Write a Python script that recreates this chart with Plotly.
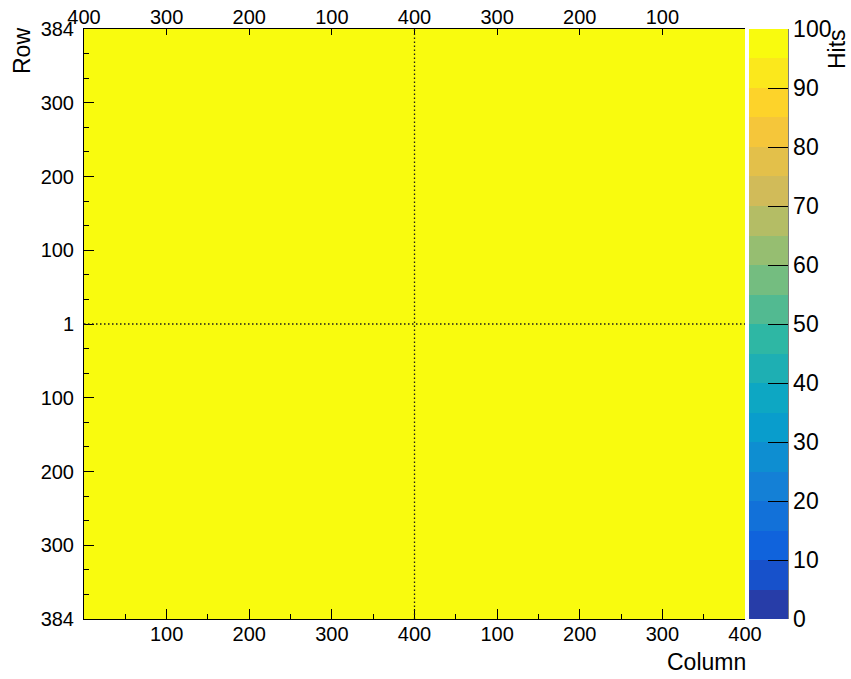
import numpy as np
import plotly.graph_objects as go

# ---- data -------------------------------------------------------------
# Quad module: 2 x 2 chips, each 400 columns x 384 rows
cols_per_chip = 400
rows_per_chip = 384
# mean hits per pixel in each chip (row 0 = lower chips)
chip_hits = [[100, 100],
             [100, 100]]

# axis tick labels
bottom_tick_cols = [100, 200, 300, 400, 500, 600, 700, 800]
bottom_tick_text = ["100", "200", "300", "400", "100", "200", "300", "400"]
top_tick_cols = [0, 100, 200, 300, 400, 500, 600, 700]
top_tick_text = ["400", "300", "200", "100", "400", "300", "200", "100"]
row_tick_text = ["384", "300", "200", "100", "1", "100", "200", "300", "384"]
cbar_ticks = [0, 10, 20, 30, 40, 50, 60, 70, 80, 90, 100]

# ---- geometry ---------------------------------------------------------
W, H = 851, 679
L, R, T, B = 84, 745, 29, 619
n_cols = 2 * cols_per_chip
n_rows = 2 * rows_per_chip
x_edges = [0, cols_per_chip, n_cols]
y_edges = [0, rows_per_chip, n_rows]
row_ticks = list(np.linspace(0, n_rows, len(row_tick_text)))


def px_x(px):
    return (px - L) / (R - L)


def px_y(py):
    return (B - py) / (B - T)


# ---- ROOT "kBird" palette, 20 contour levels -------------------------
stops = [0.0, 0.125, 0.25, 0.375, 0.5, 0.625, 0.75, 0.875, 1.0]
red = [0.2082, 0.0592, 0.0780, 0.0232, 0.1802, 0.5301, 0.8186, 0.9956, 0.9764]
green = [0.1664, 0.3599, 0.5041, 0.6419, 0.7178, 0.7492, 0.7328, 0.7862, 0.9832]
blue = [0.5293, 0.8684, 0.8385, 0.7914, 0.6425, 0.4662, 0.3499, 0.1968, 0.0539]
n_pal, n_levels = 255, 20
colorscale = []
for k in range(n_levels):
    idx = int((k + 0.99) * n_pal / n_levels)
    t = min(idx, n_pal - 1) / (n_pal - 1)
    r = np.interp(t, stops, red)
    g = np.interp(t, stops, green)
    b = np.interp(t, stops, blue)
    c = f"rgb({int(round(r*255))},{int(round(g*255))},{int(round(b*255))})"
    colorscale.append([k / n_levels, c])
    colorscale.append([(k + 1) / n_levels, c])

FONT = "Liberation Sans, Arial, Helvetica, sans-serif"

fig = go.Figure()
fig.add_trace(go.Heatmap(
    x=x_edges, y=y_edges, z=chip_hits,
    zmin=0, zmax=100, colorscale=colorscale,
    hoverinfo="skip",
    colorbar=dict(
        x=px_x(749), xanchor="left", xpad=0,
        y=0.5, yanchor="middle", ypad=0,
        len=1, lenmode="fraction",
        thickness=39, thicknessmode="pixels",
        outlinewidth=0,
        tickmode="array", tickvals=cbar_ticks,
        ticks="inside", ticklen=20, tickcolor="black", tickwidth=1,
        tickfont=dict(family=FONT, size=23, color="black"),
    ),
))
# carrier for the top axis
fig.add_trace(go.Scatter(x=[None], y=[None], xaxis="x2", showlegend=False))

axis_font = dict(family=FONT, size=20, color="black")

fig.update_layout(
    width=W, height=H,
    margin=dict(l=L, r=W - R, t=T, b=H - B, autoexpand=False),
    paper_bgcolor="white", plot_bgcolor="white",
    showlegend=False,
    xaxis=dict(
        range=[0, n_cols], showgrid=False, zeroline=False, automargin=False,
        showline=True, linecolor="black", linewidth=1,
        tickmode="array", tickvals=bottom_tick_cols, ticktext=bottom_tick_text,
        ticks="inside", ticklen=10, tickcolor="black", tickwidth=1,
        minor=dict(tickmode="linear", tick0=50, dtick=100, ticks="inside",
                   ticklen=5, tickcolor="black", tickwidth=1, showgrid=False),
        tickfont=axis_font, ticklabelstandoff=-3,
    ),
    xaxis2=dict(
        range=[0, n_cols], overlaying="x", side="top", anchor="y",
        showgrid=False, zeroline=False, automargin=False,
        showline=True, linecolor="black", linewidth=1,
        tickmode="array", tickvals=top_tick_cols, ticktext=top_tick_text,
        ticks="inside", ticklen=6, tickcolor="black", tickwidth=1,
        tickfont=axis_font, ticklabelstandoff=-4,
    ),
    yaxis=dict(
        range=[0, n_rows], showgrid=False, zeroline=False, automargin=False,
        showline=True, linecolor="black", linewidth=1,
        tickmode="array", tickvals=row_ticks, ticktext=row_tick_text,
        ticks="inside", ticklen=10, tickcolor="black", tickwidth=1,
        minor=dict(tickmode="linear", tick0=0, dtick=n_rows / 24, ticks="inside",
                   ticklen=5, tickcolor="black", tickwidth=1, showgrid=False),
        tickfont=axis_font, ticklabelstandoff=5,
    ),
)

# chip boundaries
dot = dict(color="#1a1a1a", width=1.3, dash="1.5px,2.5px")
fig.add_shape(type="line", xref="x", yref="paper",
              x0=cols_per_chip, x1=cols_per_chip, y0=0, y1=1, line=dot)
fig.add_shape(type="line", xref="paper", yref="y",
              x0=0, x1=1, y0=rows_per_chip, y1=rows_per_chip, line=dot)
# palette axis line
fig.add_shape(type="line", xref="paper", yref="paper",
              x0=px_x(788), x1=px_x(788), y0=0, y1=1,
              line=dict(color="black", width=1))

title_font = dict(family=FONT, size=23, color="black")
fig.add_annotation(text="Row", xref="paper", yref="paper",
                   x=px_x(22), y=px_y(26), xanchor="center", yanchor="top",
                   textangle=-90, showarrow=False, font=title_font)
fig.add_annotation(text="Column", xref="paper", yref="paper",
                   x=px_x(748), y=px_y(662), xanchor="right", yanchor="middle",
                   showarrow=False, font=title_font)
fig.add_annotation(text="Hits", xref="paper", yref="paper",
                   x=px_x(837), y=px_y(27), xanchor="center", yanchor="top",
                   textangle=-90, showarrow=False, font=title_font)

fig.write_html("out.html")
